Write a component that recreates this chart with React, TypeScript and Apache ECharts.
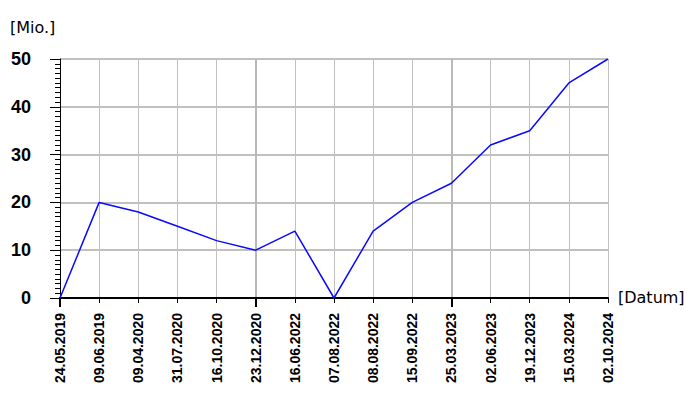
import React, { useEffect, useRef } from "react";
import * as echarts from "echarts";

const categories = [
  "24.05.2019", "09.06.2019", "09.04.2020", "31.07.2020", "16.10.2020",
  "23.12.2020", "16.06.2022", "07.08.2022", "08.08.2022", "15.09.2022",
  "25.03.2023", "02.06.2023", "19.12.2023", "15.03.2024", "02.10.2024",
];
const values = [0, 20, 18, 15, 12, 10, 14, 0, 14, 20, 24, 32, 35, 45, 50];
const yTicks = { min: 0, max: 50, interval: 10 };
const yName = "[Mio.]";
const xName = "[Datum]";

const FONT = "DejaVu Sans";
const LFONT = "Liberation Sans";

export default function App() {
  const ref = useRef<HTMLDivElement>(null);
  useEffect(() => {
    if (!ref.current) return;
    const chart = echarts.init(ref.current, undefined, { renderer: "svg" });
    chart.setOption({
      animation: false,
      backgroundColor: "#ffffff",
      grid: { left: 60, right: 92, top: 59, bottom: 102, containLabel: false },
      xAxis: [
        {
          type: "category",
          data: categories,
          boundaryGap: false,
          axisLine: { show: true, lineStyle: { color: "#000", width: 2 } },
          axisTick: { show: true, alignWithLabel: true, length: 5, lineStyle: { color: "#000", width: 1 } },
          axisLabel: {
            rotate: 90, interval: 0, margin: 15, color: "#000",
            fontFamily: LFONT, fontSize: 14, fontWeight: "bold",
          },
          splitLine: { show: true, interval: 0, lineStyle: { color: "#c0c0c0", width: 1 } },
        },
        {
          type: "category",
          data: categories,
          boundaryGap: false,
          position: "bottom",
          axisLine: { show: false },
          axisTick: { show: true, interval: (i: number) => i % 5 === 0, length: 9, lineStyle: { color: "#000", width: 2 } },
          axisLabel: { show: false },
          splitLine: { show: true, interval: (i: number) => i % 5 === 0 && i > 0, lineStyle: { color: "#b8b8b8", width: 2 } },
        },
      ],
      yAxis: {
        type: "value",
        min: yTicks.min,
        max: yTicks.max,
        interval: yTicks.interval,
        axisLine: { show: true, lineStyle: { color: "#000", width: 1 } },
        axisTick: { show: true, length: 10, lineStyle: { color: "#000", width: 1 } },
        minorTick: { show: true, splitNumber: 10, length: 5, lineStyle: { color: "#000", width: 1 } },
        axisLabel: { color: "#000", fontFamily: LFONT, fontSize: 18, fontWeight: "bold", margin: 29 },
        splitLine: { show: true, lineStyle: { color: "#c0c0c0", width: 2 } },
      },
      graphic: [
        { type: "text", left: 10, top: 19, style: { text: yName, fontFamily: FONT, fontSize: 16, fill: "#000" } },
        { type: "text", left: 618, top: 289, style: { text: xName, fontFamily: FONT, fontSize: 16, fill: "#000" } },
      ],
      series: [
        {
          type: "line",
          data: values,
          xAxisIndex: 0,
          symbol: "none",
          lineStyle: { color: "#0a0aff", width: 1.5 },
        },
      ],
    });
    return () => chart.dispose();
  }, []);
  return <div ref={ref} style={{ width: 700, height: 400, position: "absolute", left: 0, top: 0 }} />;
}
